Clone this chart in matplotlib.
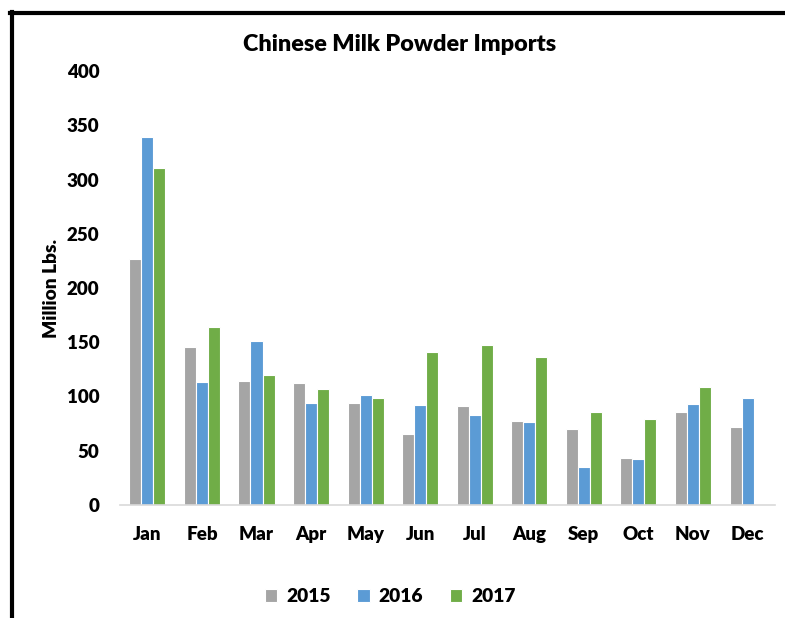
import numpy as np
import matplotlib.pyplot as plt
from matplotlib.lines import Line2D

plt.rcParams['font.family'] = ['Lato', 'DejaVu Sans']
plt.rcParams['font.weight'] = 'heavy'

months = ['Jan', 'Feb', 'Mar', 'Apr', 'May', 'Jun', 'Jul', 'Aug', 'Sep', 'Oct', 'Nov', 'Dec']
y2015 = [227, 146, 114, 112, 94, 65, 91, 77, 70, 43, 86, 72]
y2016 = [339, 113, 151, 94, 101, 92, 83, 76, 35, 42, 93, 99]
y2017 = [311, 164, 120, 107, 99, 141, 147, 136, 86, 79, 109, np.nan]
years = ['2015', '2016', '2017']
colors = ['#A5A5A5', '#5B9BD5', '#70AD47']

fig = plt.figure(figsize=(7.85, 6.18), dpi=100)
ax = fig.add_axes([0.153, 0.183, 0.834, 0.702])

x = np.arange(len(months))
w = 0.22
for i, (vals, lab, c) in enumerate(zip([y2015, y2016, y2017], years, colors)):
    ax.bar(x + (i - 1) * w, vals, width=w, color=c, edgecolor='white', linewidth=0.8, label=lab)

ax.set_xlim(-0.5, 11.5)
ax.set_ylim(0, 400)
ax.set_yticks(range(0, 401, 50))
ax.set_xticks(x)
ax.set_xticklabels(months)
for s in ['top', 'right', 'left']:
    ax.spines[s].set_visible(False)
ax.spines['bottom'].set_color('#D9D9D9')
ax.spines['bottom'].set_linewidth(1.2)
ax.tick_params(axis='y', length=0, pad=15, labelsize=13.5)
ax.tick_params(axis='x', length=0, pad=15, labelsize=13.5)
ax.set_ylabel('Million Lbs.', fontsize=13.8, fontweight='heavy')
ax.yaxis.set_label_coords(-0.092, 0.5)

fig.text(0.509, 0.928, 'Chinese Milk Powder Imports', ha='center', va='center', fontsize=16.8, fontweight='heavy')
fig.legend(loc='center', bbox_to_anchor=(0.497, 0.035), ncol=3, frameon=False, fontsize=13.8,
           handlelength=0.65, handleheight=0.65, handletextpad=0.45, columnspacing=1.4)

# chart frame edges visible in the crop
fig.add_artist(Line2D([0.015, 0.015], [0, 0.98], color='black', linewidth=3, transform=fig.transFigure))
fig.add_artist(Line2D([0.013, 1.0], [0.979, 0.979], color='black', linewidth=3, transform=fig.transFigure))

fig.savefig('out.png', dpi=100)
